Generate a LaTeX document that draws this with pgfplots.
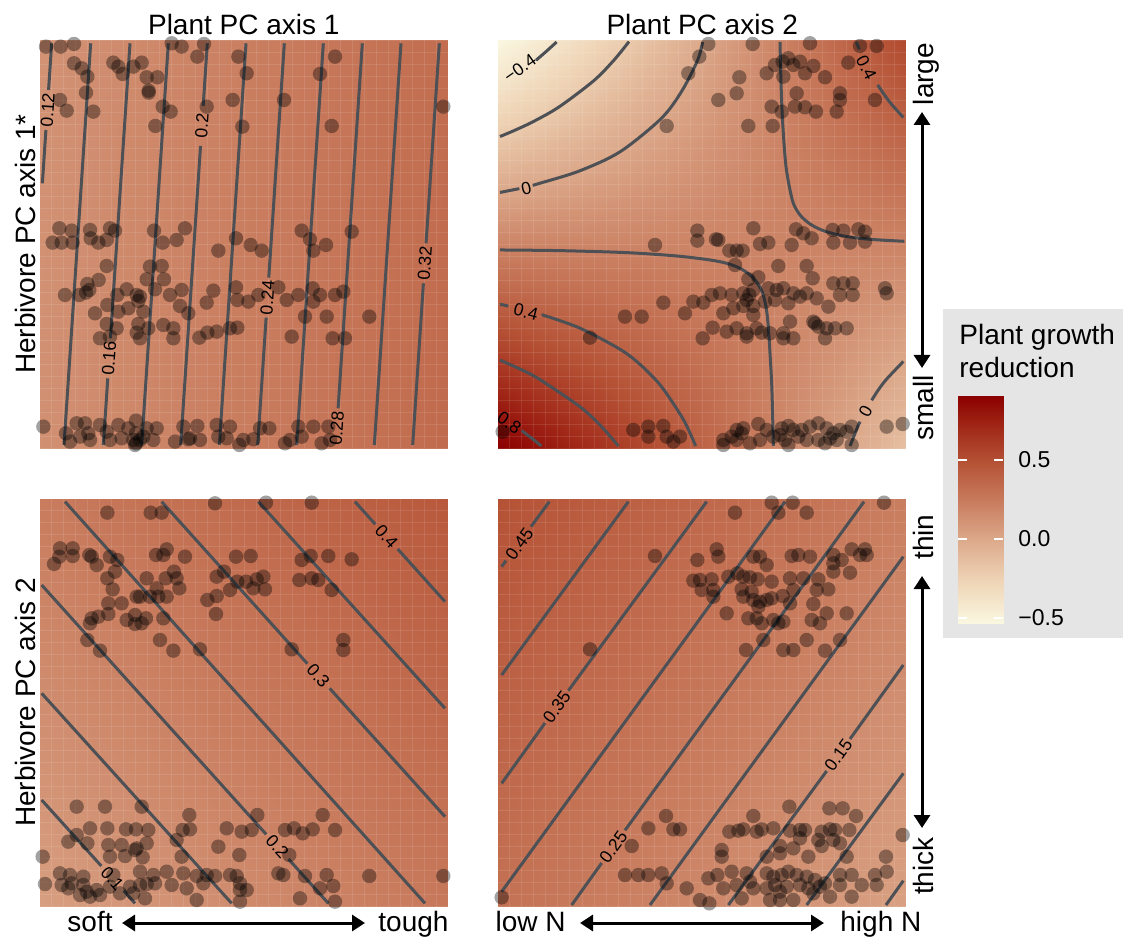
\documentclass[border=0pt]{standalone}
\usepackage{fontspec}
\setmainfont{Liberation Sans}
\usepackage{pgfplots}
\pgfplotsset{compat=1.18}
\usetikzlibrary{arrows.meta}
\definecolor{cline}{RGB}{77,80,85}
\definecolor{legbg}{RGB}{229,229,229}
\pgfplotsset{
  colormap={growth}{rgb255(0pt)=(250,247,224) rgb255(28pt)=(238,210,180) rgb255(53pt)=(220,168,138) rgb255(78pt)=(200,122,92) rgb255(103pt)=(180,80,52) rgb255(123pt)=(162,42,25) rgb255(144pt)=(139,0,0)},
  bgpanel/.style={scale only axis, width=204.5pt, height=204.17pt, view={0}{90}, hide axis, y dir=reverse, colormap name=growth, point meta min=-0.532, point meta max=0.905, anchor=south west},
  fgpanel/.style={scale only axis, width=204.5pt, height=204.17pt, y dir=reverse, anchor=south west, clip=false, axis line style={draw=none}, major tick length=0pt, xticklabels={}, yticklabels={}, grid=major, major grid style={white, opacity=0.1, line width=0.4pt}},
  cl/.style={cline, line width=1.5pt},
  pts/.style={only marks, mark=*, mark size=3.6pt, draw opacity=0, mark options={draw opacity=0, line width=0pt, fill=black, fill opacity=0.37}},
}
\tikzset{clab/.style={font=\fontsize{8.8}{10}\selectfont, inner sep=0pt},
  lab/.style={font=\fontsize{14}{16}\selectfont, inner sep=0pt},
  arr/.style={line width=1.5pt, {Triangle[length=6.5pt,width=8pt]}-{Triangle[length=6.5pt,width=8pt]}}}
\begin{document}
\begin{tikzpicture}
\path[use as bounding box] (0,0) rectangle (561.5pt,469pt);
% ================= TOP LEFT =================
\begin{axis}[bgpanel, at={(19.67pt,244.85pt)}, xmin=118, xmax=1345, ymin=120, ymax=1345]
\addplot3[surf, shader=interp, mesh/cols=2] table[row sep=\\] {x y z\\ 118 120 0.1135\\ 1345 120 0.3245\\ 118 1345 0.1275\\ 1345 1345 0.3385\\};
\end{axis}
\begin{axis}[fgpanel, at={(19.67pt,244.85pt)}, xmin=118, xmax=1345, ymin=120, ymax=1345, xtick={118,154.1,...,1345}, ytick={120,156,...,1345}]
\addplot[cl] coordinates {(155,130) (145.7,270)};
\addplot[cl] coordinates {(137.7,390) (127.1,550)};
\addplot[cl] coordinates {(272,130) (192,1335)};
\addplot[cl] coordinates {(390,130) (331.2,1015)};
\addplot[cl] coordinates {(323.3,1135) (310,1335)};
\addplot[cl] coordinates {(505,130) (425,1335)};
\addplot[cl] coordinates {(622,130) (609.5,318)};
\addplot[cl] coordinates {(601.6,438) (542,1335)};
\addplot[cl] coordinates {(738,130) (658,1335)};
\addplot[cl] coordinates {(853,130) (806.3,833)};
\addplot[cl] coordinates {(798.4,953) (773,1335)};
\addplot[cl] coordinates {(970,130) (890,1335)};
\addplot[cl] coordinates {(1087,130) (1014.3,1225)};
\addplot[cl] coordinates {(1203,130) (1123,1335)};
\addplot[cl] coordinates {(1318,130) (1278.2,730)};
\addplot[cl] coordinates {(1270.2,850) (1238,1335)};
\node[clab, rotate=86] at (axis cs:143,330) {0.12};
\node[clab, rotate=86] at (axis cs:327,1075) {0.16};
\node[clab, rotate=86] at (axis cs:605.6,378) {0.2};
\node[clab, rotate=86] at (axis cs:802.3,893) {0.24};
\node[clab, rotate=86] at (axis cs:1010.3,1285) {0.28};
\node[clab, rotate=86] at (axis cs:1274.2,790) {0.32};
\addplot[pts] coordinates {(138,140) (182,140) (222,132) (515,130) (545,140) (612,132) (592,170) (715,170) (1005,170)
(222,190) (245,205) (262,230) (340,188) (355,200) (368,222) (400,200) (425,188) (440,232) (472,232) (446,278) (258,278) (180,300) (200,332) (280,335) (488,320) (512,335) (466,378) (620,320) (698,300) (740,220) (852,300) (960,222) (995,378) (727,380) (1330,320) (446,272)
(178,685) (215,692) (270,690) (330,685) (345,692) (462,692) (555,685) (905,692) (1055,695) (158,728) (185,728) (218,728) (272,715) (295,728) (320,720) (488,728) (530,720) (708,715) (752,735) (785,752) (930,718) (940,752) (978,735) (655,752) (320,798) (450,800) (485,798) (296,840) (262,852) (258,878) (195,885) (238,885) (352,885) (380,868) (410,885) (440,838) (492,838) (465,868) (510,885) (545,870) (415,903) (430,935) (322,915) (285,940) (355,935) (385,925) (540,918) (565,940) (620,908) (640,872) (708,862) (712,900) (745,905) (775,885) (835,862) (895,885) (938,865) (960,885) (1005,885) (1030,875) (940,905) (915,950) (980,950) (1108,950) (860,900) (320,972) (350,985) (415,972) (445,985) (490,975) (520,985) (300,1015) (330,1010) (410,998) (420,1015) (520,1015) (598,1013) (622,998) (650,995) (690,985) (712,983) (875,1010) (998,1015) (1035,1015) (420,890) (268,870)
(130,1280) (198,1300) (230,1270) (255,1270) (265,1300) (300,1275) (320,1295) (355,1275) (385,1285) (408,1262) (440,1285) (470,1285) (550,1280) (592,1278) (650,1275) (690,1280) (780,1285) (808,1285) (895,1280) (940,1280) (985,1280) (210,1325) (240,1310) (270,1320) (330,1320) (365,1315) (400,1320) (408,1330) (430,1310) (460,1320) (525,1325) (565,1318) (600,1320) (655,1310) (680,1315) (718,1335) (730,1320) (760,1318) (855,1330) (870,1320) (905,1310) (965,1330) (990,1320) (405,1335) (408,1300) (420,1320) (570,1315)};
\end{axis}
% ================= TOP RIGHT =================
\begin{axis}[bgpanel, at={(248.83pt,244.85pt)}, xmin=113, xmax=1340, ymin=120, ymax=1345]
\addplot3[surf, shader=interp, mesh/cols=11] table[row sep=\\] {x y z\\
113 120 -0.552\\ 235.7 120 -0.443\\ 358.4 120 -0.334\\ 481.1 120 -0.225\\ 603.8 120 -0.117\\ 726.5 120 -0.008\\ 849.2 120 0.101\\ 971.9 120 0.210\\ 1094.6 120 0.318\\ 1217.3 120 0.427\\ 1340 120 0.536\\
113 242.5 -0.404\\ 235.7 242.5 -0.317\\ 358.4 242.5 -0.230\\ 481.1 242.5 -0.143\\ 603.8 242.5 -0.056\\ 726.5 242.5 0.031\\ 849.2 242.5 0.119\\ 971.9 242.5 0.206\\ 1094.6 242.5 0.293\\ 1217.3 242.5 0.380\\ 1340 242.5 0.467\\
113 365 -0.257\\ 235.7 365 -0.192\\ 358.4 365 -0.126\\ 481.1 365 -0.060\\ 603.8 365 0.005\\ 726.5 365 0.071\\ 849.2 365 0.136\\ 971.9 365 0.202\\ 1094.6 365 0.267\\ 1217.3 365 0.333\\ 1340 365 0.398\\
113 487.5 -0.110\\ 235.7 487.5 -0.066\\ 358.4 487.5 -0.022\\ 481.1 487.5 0.022\\ 603.8 487.5 0.066\\ 726.5 487.5 0.110\\ 849.2 487.5 0.154\\ 971.9 487.5 0.198\\ 1094.6 487.5 0.242\\ 1217.3 487.5 0.286\\ 1340 487.5 0.330\\
113 610 0.038\\ 235.7 610 0.060\\ 358.4 610 0.082\\ 481.1 610 0.105\\ 603.8 610 0.127\\ 726.5 610 0.149\\ 849.2 610 0.172\\ 971.9 610 0.194\\ 1094.6 610 0.216\\ 1217.3 610 0.239\\ 1340 610 0.261\\
113 732.5 0.185\\ 235.7 732.5 0.186\\ 358.4 732.5 0.186\\ 481.1 732.5 0.187\\ 603.8 732.5 0.188\\ 726.5 732.5 0.189\\ 849.2 732.5 0.189\\ 971.9 732.5 0.190\\ 1094.6 732.5 0.191\\ 1217.3 732.5 0.192\\ 1340 732.5 0.192\\
113 855 0.332\\ 235.7 855 0.311\\ 358.4 855 0.290\\ 481.1 855 0.270\\ 603.8 855 0.249\\ 726.5 855 0.228\\ 849.2 855 0.207\\ 971.9 855 0.186\\ 1094.6 855 0.165\\ 1217.3 855 0.145\\ 1340 855 0.124\\
113 977.5 0.479\\ 235.7 977.5 0.437\\ 358.4 977.5 0.395\\ 481.1 977.5 0.352\\ 603.8 977.5 0.310\\ 726.5 977.5 0.267\\ 849.2 977.5 0.225\\ 971.9 977.5 0.182\\ 1094.6 977.5 0.140\\ 1217.3 977.5 0.097\\ 1340 977.5 0.055\\
113 1100 0.627\\ 235.7 1100 0.563\\ 358.4 1100 0.499\\ 481.1 1100 0.435\\ 603.8 1100 0.371\\ 726.5 1100 0.307\\ 849.2 1100 0.243\\ 971.9 1100 0.178\\ 1094.6 1100 0.114\\ 1217.3 1100 0.050\\ 1340 1100 -0.014\\
113 1222.5 0.774\\ 235.7 1222.5 0.688\\ 358.4 1222.5 0.603\\ 481.1 1222.5 0.517\\ 603.8 1222.5 0.432\\ 726.5 1222.5 0.346\\ 849.2 1222.5 0.260\\ 971.9 1222.5 0.175\\ 1094.6 1222.5 0.089\\ 1217.3 1222.5 0.003\\ 1340 1222.5 -0.082\\
113 1345 0.921\\ 235.7 1345 0.814\\ 358.4 1345 0.707\\ 481.1 1345 0.600\\ 603.8 1345 0.492\\ 726.5 1345 0.385\\ 849.2 1345 0.278\\ 971.9 1345 0.171\\ 1094.6 1345 0.063\\ 1217.3 1345 -0.044\\ 1340 1345 -0.151\\
};
\end{axis}
\begin{axis}[fgpanel, at={(248.83pt,244.85pt)}, xmin=113, xmax=1340, ymin=120, ymax=1345, xtick={113,149.1,...,1340}, ytick={120,156,...,1345}]
\addplot[cl, smooth] coordinates {(228,181) (258,155) (290,126)};
\addplot[cl, smooth] coordinates {(120,409.7) (162,392) (219.7,365) (297,321) (401,242.5) (461.5,181) (507,125)};
\addplot[cl] coordinates {(120,577.4) (178,566)};
\addplot[cl, smooth] coordinates {(218,556) (235.7,551) (358.4,513) (481,455) (603.8,355.5) (665,274) (712.8,181) (728,126)};
\addplot[cl, smooth] coordinates {(120,750) (300,752) (500,758) (650,768) (750,780) (800,790) (840,805) (870,825) (893,850) (908,880) (918,920) (925,980) (930,1060) (935,1150) (938,1250) (940,1338)};
\addplot[cl, smooth] coordinates {(960,126) (963,250) (967,350) (972,430) (978,500) (988,560) (1000,610) (1020,645) (1050,672) (1090,692) (1150,708) (1230,718) (1333,724)};
\addplot[cl] coordinates {(120,912.8) (145,918.3)};
\addplot[cl, smooth] coordinates {(245,944) (358.4,983.9) (481,1048.5) (542.5,1095.5) (603.8,1159) (665,1250) (689.7,1298.4) (707,1338)};
\addplot[cl, smooth] coordinates {(120,1080.5) (174.4,1104.7) (235.7,1136.3) (358.4,1219.2) (419.75,1275) (475.3,1338)};
\addplot[cl, smooth] coordinates {(185,1291.8) (211,1311.4) (235.7,1331) (243.8,1338)};
\addplot[cl] coordinates {(1189,126) (1198,148)};
\addplot[cl, smooth] coordinates {(1253,255) (1287,303.75) (1330,352.6)};
\addplot[cl, smooth] coordinates {(1170,1338) (1192.8,1281) (1200,1265)};
\addplot[cl, smooth] coordinates {(1235,1201) (1254,1171.3) (1278.6,1138.8) (1330,1084.5)};
\node[clab, rotate=35] at (axis cs:180,205) {\textminus0.4};
\node[clab, rotate=13] at (axis cs:199,565) {0};
\node[clab, rotate=-14] at (axis cs:198,936) {0.4};
\node[clab, rotate=-34] at (axis cs:148,1268) {0.8};
\node[clab, rotate=-63] at (axis cs:1219,204) {0.4};
\node[clab, rotate=62] at (axis cs:1217,1235) {0};
\addplot[pts] coordinates {(745,132) (878,132) (1050,130) (1200,138) (1250,138) (718,170) (685,220) (838,232) (920,220) (945,195) (968,185) (985,175) (1000,195) (1020,185) (1035,220) (1060,198) (1095,232) (970,230) (1165,188) (1010,280) (1140,280) (1140,300) (830,280) (775,300) (935,320) (965,335) (1005,320) (1035,322) (1068,335) (1130,335) (1245,300) (620,378) (865,378) (938,378)
(712,692) (880,685) (1008,688) (1118,690) (1150,692) (1195,688) (1215,695) (712,722) (768,718) (775,720) (585,735) (808,752) (830,752) (848,752) (900,732) (925,728) (995,735) (1030,700) (1055,715) (1120,728) (1170,728) (1215,725) (955,798) (1040,798) (825,795) (865,838) (895,832) (1058,835) (1120,850) (1150,850) (1178,850) (1275,865) (1280,880) (610,908) (700,905) (730,908) (755,885) (780,880) (815,885) (850,880) (868,885) (880,870) (925,865) (950,870) (970,865) (1000,880) (1020,890) (1040,880) (1070,895) (860,900) (915,905) (945,900) (985,910) (1105,920) (1140,885) (1178,885) (880,918) (850,918) (495,950) (545,950) (675,940) (790,940) (820,925) (880,945) (390,1013) (758,983) (800,995) (830,985) (860,1000) (890,985) (905,998) (930,1000) (970,1000) (1000,1015) (1075,980) (1100,985) (1125,985) (1160,985) (1095,1015) (728,1015) (860,1010) (990,965) (1060,965) (970,1015) (1065,970)
(128,1295) (520,1290) (565,1280) (610,1278) (565,1310) (620,1310) (640,1325) (660,1310) (790,1320) (815,1310) (830,1290) (850,1285) (895,1272) (920,1290) (965,1285) (985,1278) (1000,1290) (1025,1290) (1050,1280) (1075,1270) (1100,1285) (1120,1300) (1140,1290) (1160,1295) (1175,1280) (1280,1280) (1328,1272) (790,1335) (830,1320) (870,1330) (900,1320) (940,1310) (975,1320) (1015,1310) (1040,1320) (1075,1320) (1110,1315) (1130,1320) (1175,1335) (985,1335) (1095,1330) (845,1300) (960,1305)};
\end{axis}
% ================= BOTTOM LEFT =================
\begin{axis}[bgpanel, at={(19.67pt,15.67pt)}, xmin=118, xmax=1345, ymin=115, ymax=1340]
\addplot3[surf, shader=interp, mesh/cols=2] table[row sep=\\] {x y z\\ 118 115 0.2368\\ 1345 115 0.4469\\ 118 1340 0.048\\ 1345 1340 0.2581\\};
\end{axis}
\begin{axis}[fgpanel, at={(19.67pt,15.67pt)}, xmin=118, xmax=1345, ymin=115, ymax=1340, xtick={118,154.1,...,1345}, ytick={115,151,...,1340}]
\addplot[cl] coordinates {(125,1020) (304,1218)};
\addplot[cl] coordinates {(371,1292) (405,1330)};
\addplot[cl] coordinates {(125,700) (695,1330)};
\addplot[cl] coordinates {(125,375) (798.5,1123)};
\addplot[cl] coordinates {(865.3,1197) (985,1330)};
\addplot[cl] coordinates {(195,125) (1275,1330)};
\addplot[cl] coordinates {(485,125) (922,611)};
\addplot[cl] coordinates {(989,685) (1335,1070)};
\addplot[cl] coordinates {(775,125) (1335,745)};
\addplot[cl] coordinates {(1065,125) (1126,193)};
\addplot[cl] coordinates {(1193,267) (1335,425)};
\node[clab, rotate=-48] at (axis cs:337,1255) {0.1};
\node[clab, rotate=-48] at (axis cs:832,1160) {0.2};
\node[clab, rotate=-48] at (axis cs:955,648) {0.3};
\node[clab, rotate=-48] at (axis cs:1159.5,230) {0.4};
\addplot[pts] coordinates {(645,130) (798,128) (935,128) (322,158) (452,158) (485,158)
(180,265) (218,265) (268,285) (178,290) (162,312) (218,288) (275,290) (290,315) (330,290) (352,300) (468,285) (490,285) (500,268) (555,290) (708,290) (752,288) (905,300) (932,288) (985,288) (1055,298)
(345,335) (322,355) (338,388) (440,355) (470,385) (497,355) (522,335) (530,355) (538,385) (650,350) (672,335) (690,390) (712,365) (738,365) (760,385) (770,358) (790,350) (795,388) (898,360) (935,355) (955,360) (995,390) (1030,540) (1030,570)
(420,410) (410,410) (450,410) (475,410) (500,410) (325,430) (365,430) (622,420) (650,408) (325,462) (380,480) (405,465) (405,492) (425,490) (438,475) (490,475) (275,475) (270,490) (295,470) (648,462) (262,540) (300,572) (480,540) (520,572) (600,568) (875,568)
(230,1040) (315,1040) (425,1040) (568,1065) (772,1065) (968,1065) (230,1125) (270,1105) (322,1105) (378,1108) (408,1108) (445,1110) (548,1110) (570,1108) (680,1105) (725,1115) (755,1110) (855,1110) (882,1105) (908,1120) (938,1108) (1005,1110) (205,1145) (262,1150) (325,1155) (365,1155) (410,1165) (440,1150) (530,1140) (655,1160) (718,1185) (868,1185) (128,1190) (330,1190) (375,1188) (405,1170) (428,1192) (545,1190)
(180,1240) (210,1245) (250,1250) (340,1245) (420,1235) (460,1245) (500,1235) (550,1240) (590,1248) (620,1245) (645,1248) (690,1245) (710,1248) (835,1240) (850,1245) (915,1248) (980,1245) (1108,1248) (1330,1248) (135,1272) (185,1275) (215,1270) (250,1275) (260,1295) (290,1290) (330,1280) (390,1280) (420,1275) (440,1272) (465,1270) (515,1275) (560,1285) (610,1270) (720,1270) (740,1290) (900,1315) (960,1285) (1000,1278) (1005,1325) (240,1305) (270,1310) (300,1305) (360,1300) (400,1300) (435,1315) (590,1320) (720,1325) (205,1285) (720,1290)};
\end{axis}
% ================= BOTTOM RIGHT =================
\begin{axis}[bgpanel, at={(248.83pt,15.67pt)}, xmin=113, xmax=1340, ymin=115, ymax=1340]
\addplot3[surf, shader=interp, mesh/cols=2] table[row sep=\\] {x y z\\ 113 115 0.4854\\ 1340 115 0.2244\\ 113 1340 0.2965\\ 1340 1340 0.0354\\};
\end{axis}
\begin{axis}[fgpanel, at={(248.83pt,15.67pt)}, xmin=113, xmax=1340, ymin=115, ymax=1340, xtick={113,149.1,...,1340}, ytick={115,151,...,1340}]
\addplot[cl] coordinates {(125,320) (138,302)};
\addplot[cl] coordinates {(213,200) (268,125)};
\addplot[cl] coordinates {(125,645) (505,125)};
\addplot[cl] coordinates {(125,970) (255,789)};
\addplot[cl] coordinates {(325,692) (740,125)};
\addplot[cl] coordinates {(125,1295) (975,125)};
\addplot[cl] coordinates {(335,1335) (425,1209)};
\addplot[cl] coordinates {(495,1111) (1212,125)};
\addplot[cl] coordinates {(570,1335) (1330,290)};
\addplot[cl] coordinates {(805,1335) (1100,933)};
\addplot[cl] coordinates {(1170,837) (1330,615)};
\addplot[cl] coordinates {(1040,1335) (1330,940)};
\addplot[cl] coordinates {(1278,1335) (1330,1262)};
\node[clab, rotate=54] at (axis cs:178,252) {0.45};
\node[clab, rotate=54] at (axis cs:290,740) {0.35};
\node[clab, rotate=54] at (axis cs:460,1160) {0.25};
\node[clab, rotate=54] at (axis cs:1135,885) {0.15};
\addplot[pts] coordinates {(935,128) (998,128) (1272,128) (825,158) (955,158) (1040,158)
(770,268) (585,288) (712,300) (775,290) (880,290) (900,290) (995,288) (1015,285) (1050,290) (1120,285) (1145,300) (1175,268) (1200,285) (1215,268) (1220,285) (1120,310) (1170,338) (1120,335) (920,315)
(700,362) (720,360) (755,358) (805,350) (832,340) (850,350) (870,352) (893,358) (935,365) (990,355) (1030,355) (1075,358) (725,390) (760,390) (760,410) (845,388) (850,410) (875,395) (880,420) (900,425) (920,420) (935,415) (968,408) (990,430) (1000,390) (1070,390) (1105,388) (1060,432) (895,440) (800,460) (865,475) (890,475) (905,490) (940,480) (970,485) (1055,480) (1080,490) (1100,460) (1160,460) (910,540) (970,570) (1000,570) (1040,540) (1095,572) (1140,540) (858,570) (390,568) (955,490)
(988,1040) (1108,1045) (1148,1045) (1188,1068) (880,1068) (618,1068) (565,1105) (640,1108) (660,1108) (808,1115) (835,1112) (850,1108) (890,1115) (905,1108) (940,1105) (990,1112) (1020,1110) (1035,1110) (1085,1115) (1110,1108) (1125,1110) (1168,1110) (1328,1125) (1020,1135) (1075,1140) (1120,1140) (1140,1150) (515,1158) (960,1158) (1000,1165) (1085,1158) (785,1170) (785,1190) (920,1190) (1045,1190) (1160,1190) (1278,1190) (960,1180)
(495,1245) (535,1245) (565,1245) (605,1240) (620,1270) (745,1255) (772,1245) (815,1235) (860,1240) (870,1265) (920,1240) (940,1250) (965,1245) (985,1235) (1010,1245) (1040,1250) (1065,1260) (1095,1270) (1140,1245) (1175,1245) (1205,1275) (1245,1245) (1280,1235) (680,1285) (720,1320) (748,1330) (790,1285) (830,1275) (845,1315) (880,1285) (920,1285) (945,1275) (960,1295) (980,1280) (1000,1320) (1020,1275) (1045,1285) (1060,1300) (1080,1280) (1110,1310) (1140,1275) (1175,1310) (1250,1275) (125,1312) (960,1320) (930,1320)};
\end{axis}
% ================= TEXT =================
\node[lab, anchor=base] at (121.9pt,451.85pt) {Plant PC axis 1};
\node[lab, anchor=base] at (351.1pt,451.85pt) {Plant PC axis 2};
\node[lab, anchor=base, rotate=90] at (17.5pt,347pt) {Herbivore PC axis 1*};
\node[lab, anchor=base, rotate=90] at (17.5pt,117.75pt) {Herbivore PC axis 2};
\node[lab, anchor=base, rotate=90] at (466.5pt,432pt) {large};
\node[lab, anchor=base, rotate=90] at (466.5pt,265pt) {small};
\node[lab, anchor=base, rotate=90] at (466.5pt,200.5pt) {thin};
\node[lab, anchor=base, rotate=90] at (466.5pt,36pt) {thick};
\draw[arr] (461pt,285pt) -- (461pt,413pt);
\draw[arr] (461pt,55pt) -- (461pt,181pt);
\node[lab, anchor=base east] at (56.5pt,3.5pt) {soft};
\node[lab, anchor=base west] at (189pt,3.5pt) {tough};
\node[lab, anchor=base east] at (283pt,3.5pt) {low N};
\node[lab, anchor=base west] at (420pt,3.5pt) {high N};
\draw[arr] (61pt,7.5pt) -- (182.5pt,7.5pt);
\draw[arr] (290pt,7.5pt) -- (412pt,7.5pt);
% ================= LEGEND =================
\fill[legbg] (471.5pt,150pt) rectangle (561.5pt,314.5pt);
\node[lab, anchor=base west] at (479.5pt,296.5pt) {Plant growth};
\node[lab, anchor=base west] at (479.5pt,280pt) {reduction};
\begin{axis}[scale only axis, width=22.5pt, height=113.5pt, at={(479pt,157.5pt)}, anchor=south west, view={0}{90}, hide axis, xmin=0, xmax=1, ymin=-0.532, ymax=0.905, colormap name=growth, point meta min=-0.532, point meta max=0.905]
\addplot3[surf, shader=interp, mesh/cols=2] table[row sep=\\] {x y z\\ 0 -0.532 -0.532\\ 1 -0.532 -0.532\\ 0 -0.25 -0.25\\ 1 -0.25 -0.25\\ 0 0 0\\ 1 0 0\\ 0 0.25 0.25\\ 1 0.25 0.25\\ 0 0.5 0.5\\ 1 0.5 0.5\\ 0 0.7 0.7\\ 1 0.7 0.7\\ 0 0.905 0.905\\ 1 0.905 0.905\\};
\end{axis}
\begin{axis}[scale only axis, width=22.5pt, height=113.5pt, at={(479pt,157.5pt)}, anchor=south west, xmin=0, xmax=1, ymin=-0.532, ymax=0.905, axis line style={draw=none}, xtick=\empty, ytick={-0.5,0,0.5}, yticklabels={\textminus0.5,0.0,0.5}, ytick pos=both, yticklabel pos=right, tick align=inside, major tick length=4.5pt, tick style={white, line width=0.7pt}, yticklabel style={font=\fontsize{11.5}{13}\selectfont, inner sep=0pt, xshift=7.5pt, anchor=west}]
\end{axis}
\end{tikzpicture}
\end{document}
